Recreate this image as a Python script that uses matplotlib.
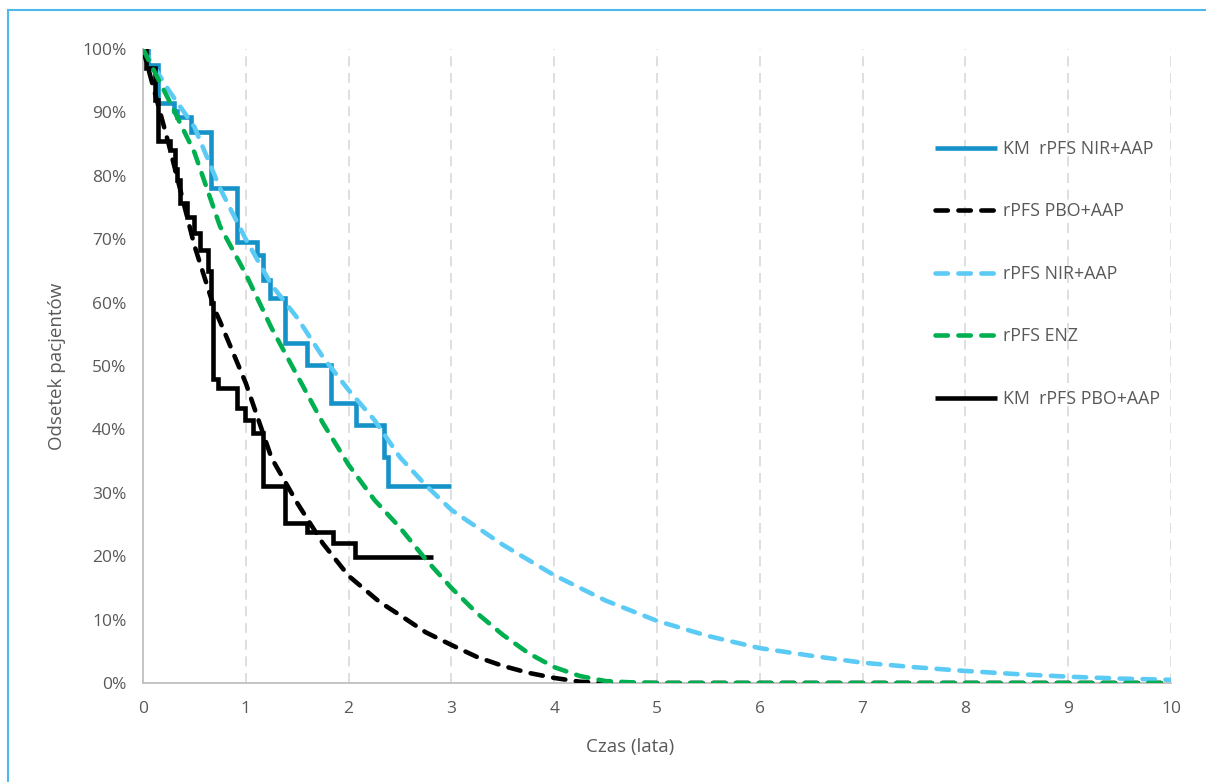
import matplotlib
matplotlib.use("Agg")
import matplotlib.pyplot as plt
from matplotlib.lines import Line2D

plt.rcParams['font.family'] = ['Open Sans', 'DejaVu Sans']

# ---------------- data ----------------
# Kaplan-Meier NIR+AAP (steps)
km_nir_t = [0, 0.05, 0.145, 0.30, 0.33, 0.47, 0.66, 0.915, 1.11, 1.17, 1.235, 1.38, 1.6, 1.83, 2.07, 2.34, 2.38, 3.0]
km_nir_s = [100, 97.5, 91.5, 90.2, 89.2, 86.9, 78.1, 69.6, 67.5, 63.6, 60.7, 53.6, 50.2, 44.2, 40.7, 35.6, 31.1, 31.1]

# Kaplan-Meier PBO+AAP (steps)
km_pbo_t = [0, 0.03, 0.12, 0.145, 0.265, 0.31, 0.33, 0.36, 0.43, 0.5, 0.555, 0.63, 0.66, 0.68, 0.73,
            0.915, 0.99, 1.07, 1.167, 1.38, 1.6, 1.85, 2.06, 2.82]
km_pbo_s = [100, 97, 92, 85.5, 84, 81, 79.3, 75.7, 73.5, 71, 68.3, 65, 60, 48, 46.5,
            43.3, 41.5, 39.4, 31.1, 25.2, 23.8, 22.1, 19.9, 19.9]

# Fitted curves
fit_pbo_t = [0, 0.25, 0.5, 0.7, 0.75, 1.0, 1.25, 1.5, 1.75, 2.0, 2.3, 2.5, 2.75, 3.0, 3.25, 3.5, 3.75,
             4.0, 4.25, 4.5, 5, 6, 7, 8, 9, 10]
fit_pbo_s = [100, 85, 69, 58.8, 57, 47.3, 35.5, 28.4, 22, 16.9, 12.8, 10.7, 8, 6, 4.1, 2.7, 1.6,
             0.8, 0.2, 0, 0, 0, 0, 0, 0, 0]

fit_nir_t = [0, 0.25, 0.5, 0.75, 1.0, 1.25, 1.5, 1.75, 2.0, 2.25, 2.5, 2.75, 3.0, 3.5, 4.0, 4.5, 5.0,
             5.5, 6.0, 6.5, 7.0, 7.5, 8.0, 8.5, 9.0, 9.5, 10.0]
fit_nir_s = [100, 93.5, 87.7, 78, 70, 62.8, 57.6, 51.4, 46.2, 41.5, 35.6, 31.2, 27.3, 21.8, 17, 13, 9.8,
             7.4, 5.5, 4.3, 3.2, 2.5, 1.9, 1.4, 1.0, 0.7, 0.5]

fit_enz_t = [0, 0.25, 0.5, 0.75, 1.0, 1.25, 1.5, 1.75, 2.0, 2.25, 2.5, 2.75, 3.0, 3.25, 3.5, 3.75,
             4.0, 4.25, 4.5, 4.75, 5, 6, 7, 8, 9, 10]
fit_enz_s = [100, 92, 83.7, 72, 64.5, 56, 48.5, 41, 34.4, 28.9, 24.5, 19.5, 15, 11, 7.6, 4.7,
             2.5, 1.1, 0.3, 0.1, 0, 0, 0, 0, 0, 0]

labels = ["KM  rPFS NIR+AAP", "rPFS PBO+AAP", "rPFS NIR+AAP", "rPFS ENZ", "KM  rPFS PBO+AAP"]
x_ticks = list(range(0, 11))
y_ticks = list(range(0, 101, 10))

# ---------------- styling ----------------
C_KM_NIR = "#1592C8"
C_FIT_NIR = "#5BCBF5"
C_ENZ = "#00B050"
C_BLACK = "#000000"
TXT = "#595959"
LW = 3.3
DASH = (2.7, 2.3)
FS_TICK = 12.5
FS_LEG = 12.8
FS_LAB = 13.5

fig = plt.figure(figsize=(12.06, 7.82), dpi=100)
ax = fig.add_axes([143 / 1206, 1 - 683 / 782, (1171 - 143) / 1206, (683 - 49) / 782])

ax.step(km_nir_t, km_nir_s, where='post', color=C_KM_NIR, lw=LW, solid_joinstyle='miter',
        solid_capstyle='butt', zorder=3, label=labels[0])
ax.plot(fit_pbo_t, fit_pbo_s, color=C_BLACK, lw=LW, dashes=DASH, dash_capstyle='round',
        zorder=4, label=labels[1])
ax.plot(fit_nir_t, fit_nir_s, color=C_FIT_NIR, lw=LW, dashes=DASH, dash_capstyle='round',
        zorder=5, label=labels[2])
ax.plot(fit_enz_t, fit_enz_s, color=C_ENZ, lw=LW, dashes=DASH, dash_capstyle='round',
        zorder=6, label=labels[3])
ax.step(km_pbo_t, km_pbo_s, where='post', color=C_BLACK, lw=LW, solid_joinstyle='miter',
        solid_capstyle='butt', zorder=5.5, label=labels[4])

ax.set_xlim(0, 10)
ax.set_ylim(0, 100)
ax.set_xticks(x_ticks)
ax.set_xticklabels([str(v) for v in x_ticks])
ax.set_yticks(y_ticks)
ax.set_yticklabels([f"{v}%" for v in y_ticks])
ax.tick_params(axis='both', length=0, labelsize=FS_TICK, colors=TXT)
ax.tick_params(axis='y', pad=12)
ax.tick_params(axis='x', pad=13)

for xv in x_ticks[1:]:
    ax.axvline(xv, color="#D9D9D9", lw=1.2, dashes=(6, 4), zorder=1)

for sp in ['top', 'right']:
    ax.spines[sp].set_visible(False)
for sp in ['left', 'bottom']:
    ax.spines[sp].set_color("#BFBFBF")
    ax.spines[sp].set_linewidth(1.3)
    ax.spines[sp].set_zorder(2)

ax.set_ylabel("Odsetek pacjentów", fontsize=FS_LAB, color=TXT)
ax.set_xlabel("Czas (lata)", fontsize=FS_LAB, color=TXT)
ax.yaxis.set_label_coords((57 - 143) / 1028, 0.5)
ax.xaxis.set_label_coords((630 - 143) / 1028, -(747 - 683) / 634)
ax.yaxis.label.set_va('center')
ax.xaxis.label.set_va('center')

leg = ax.legend(loc='upper left', bbox_to_anchor=(935 / 1206, 1 - 140 / 782),
                bbox_transform=fig.transFigure, frameon=False, fontsize=FS_LEG,
                handlelength=3.5, handletextpad=0.34, labelspacing=2.5, borderpad=0,
                borderaxespad=0)
for t in leg.get_texts():
    t.set_color(TXT)

# light-blue frame around chart (left and top edges visible)
fig.add_artist(Line2D([8 / 1206, 8 / 1206], [0, 1 - 10 / 782], transform=fig.transFigure,
                      color="#4DB8EA", lw=1.5))
fig.add_artist(Line2D([8 / 1206, 1], [1 - 10 / 782, 1 - 10 / 782], transform=fig.transFigure,
                      color="#4DB8EA", lw=1.5))

fig.savefig("out.png", dpi=100)
